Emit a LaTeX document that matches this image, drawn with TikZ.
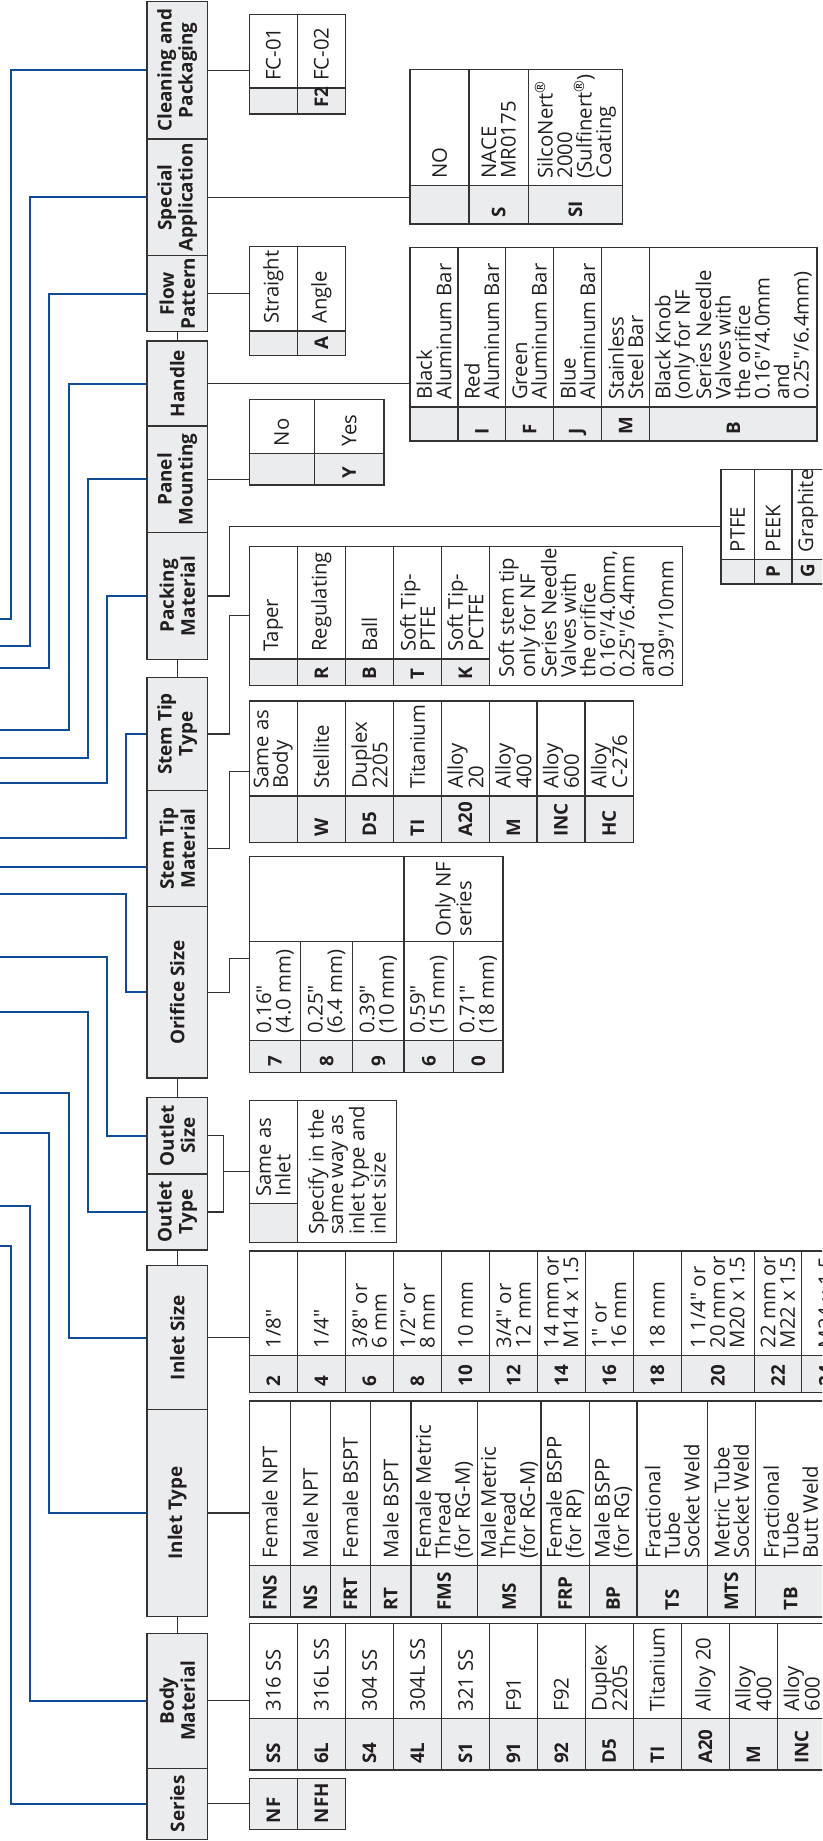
\documentclass[tikz,border=0pt]{standalone}
\usepackage{fontspec}
\setmainfont{Open Sans}[Ligatures=TeXOff]
\usetikzlibrary{fit}

\definecolor{hdrgray}{HTML}{EBECEE}
\definecolor{codeblue}{HTML}{0F4C95}
\definecolor{inkgray}{HTML}{333333}
\definecolor{textc}{HTML}{231F20}

% option table: frame name, x0, strip end, x1, ytop, ystrip, ybot, columns xa/xb/code/text
\newcommand{\opttab}[8]{%
  \fill[hdrgray] (#2,#6) rectangle (#3,#7);
  \foreach \xa/\xb/\cd/\tx [count=\i] in {#8}{
    \draw[tline] (\xb,#5) -- (\xb,#7) (\xa,#6) -- (\xb,#6);
    \node[opt] (#1-\i) at ({(\xa+\xb)/2},#6-7) {\tx};
    \node[ocode] (#1-c\i) at ({(\xa+\xb)/2},#7-6) {\cd};
  }
  \node[tframe,fit={(#2,#5) (#4,#7)}] (#1) {};
}

\begin{document}
\begin{tikzpicture}[x=1pt,y=-1pt,
  hdr/.style={draw=inkgray,fill=hdrgray,line width=1.4pt,rotate=90,minimum height=60.3pt,
    inner sep=1pt,align=center,text=textc,font=\fontsize{18.9}{21}\selectfont\bfseries},
  opt/.style={rotate=90,anchor=west,inner sep=0pt,align=left,text=textc,
    font=\fontsize{20.3}{19.5}\selectfont},
  ocode/.style={rotate=90,anchor=west,inner sep=0pt,text=textc,font=\fontsize{18.8}{19}\selectfont\bfseries},
  tline/.style={draw=inkgray,line width=1.3pt},
  tframe/.style={draw=inkgray,line width=1.4pt,inner sep=0pt},
  conn/.style={draw=inkgray,line width=1.2pt},
  bline/.style={draw=codeblue,line width=2pt}]

 \useasboundingbox (0,0) rectangle (822,1841);
 \clip (0,0) rectangle (822,1841);

 % ordering-code headers
 \foreach \n/\yc/\h/\t in {clean/70.2/137.7/{Cleaning and\\Packaging},
   special/197.4/116.7/{Special\\Application}, flow/293.7/76/{Flow\\Pattern},
   handle/383.5/85/Handle, panel/479.4/106.7/{Panel\\Mounting},
   packing/596/126.6/{Packing\\Material}, tiptype/734/113.4/{Stem Tip\\Type},
   tipmat/848.7/116/{Stem Tip\\Material}, orifice/992.4/171.3/{Orifice Size},
   outsize/1135.7/76.7/{Outlet\\Size}, outtype/1212/76/{Outlet\\Type},
   insize/1337.5/143.6/{Inlet Size}, intype/1513/207.4/{Inlet Type},
   body/1700.8/135/{Body\\Material}, series/1803.8/71/Series}
   \node[hdr,minimum width=\h pt] (\n) at (177.2,\yc) {\t};

 \draw[conn] (flow.west) -- (handle.east);
 \draw[conn] (packing.west) -- (tiptype.east);
 \draw[conn] (orifice.west) -- (outsize.east);
 \draw[conn] (outtype.west) -- (insize.east);
 \draw[conn] (intype.west) -- (body.east);

 % blue leads to the code string
 \foreach \n/\vx/\ey in {clean/11.3/619.3, special/30.3/645.7, flow/49.3/668,
   handle/68.7/730, panel/87.7/758.3, packing/107/782.7, tiptype/126/837.7,
   orifice/126/894.3, outsize/107/956.7, outtype/87.7/1012, insize/68.7/1093.3,
   intype/49.3/1133.3, body/30.3/1205.7, series/11.3/1245.7}{
   \coordinate (e-\n) at (0,\ey);
   \draw[bline] (\n.north) -| (\vx,\ey) -- (e-\n);
 }
 \coordinate (e-tipmat) at (0,867.3);
 \draw[bline] (e-tipmat) -- (e-tipmat -| tipmat.north);

 % option tables
 \opttab{t-clean}{249.3}{345.3}{345.3}{14.7}{88}{114}{249.3/297.3/{}/FC-01, 297.3/345.3/F2/FC-02}
 \opttab{t-special}{410}{622.3}{622.3}{69.3}{185.7}{224}{410/469/{}/NO,
   469/528.3/S/{NACE\\MR0175},
   528.3/622.3/SI/{SilcoNert\textsuperscript{\textregistered}\\2000\\(Sulfinert\textsuperscript{\textregistered})\\Coating}}
 \opttab{t-flow}{249.3}{345.3}{345.3}{246.3}{331}{355.7}{249.3/297.3/{}/Straight, 297.3/345.3/A/Angle}
 \opttab{t-handle}{410}{817}{817}{247.3}{407}{441}{410/458/{}/{Black\\Aluminum Bar},
   458/505.7/I/{Red\\Aluminum Bar}, 505.7/553.7/F/{Green\\Aluminum Bar},
   553.7/601.7/J/{Blue\\Aluminum Bar}, 601.7/649.7/M/{Stainless\\Steel Bar},
   649.7/817/B/{Black Knob\\(only for NF\\Series Needle\\Valves with\\the orifice\\0.16"/4.0mm\\and\\0.25"/6.4mm)}}
 \opttab{t-panel}{249.3}{384}{384}{399.7}{453.3}{485}{249.3/314.3/{}/No, 314.3/384/Y/Yes}
 \opttab{t-pack}{721}{823.5}{823.5}{469.3}{559.3}{584}{721/754.3/{}/PTFE, 754.3/792/P/PEEK, 792/823.5/G/Graphite}
 \opttab{t-tiptype}{249.3}{489.7}{682.3}{546.3}{659}{685.3}{249.3/297.3/{}/Taper,
   297.3/345.3/R/Regulating, 345.3/393.7/B/Ball, 393.7/441.3/T/{Soft Tip-\\PTFE},
   441.3/489.7/K/{Soft Tip-\\PCTFE}}
 \node[opt] (tipnote) at (586,678) {Soft stem tip\\only for NF\\Series Needle\\Valves with\\the orifice\\0.16"/4.0mm,\\0.25"/6.4mm\\and\\0.39"/10mm};
 \opttab{t-tipmat}{249.3}{633.3}{633.3}{701}{796}{842.7}{249.3/297.3/{}/{Same as\\Body},
   297.3/345.3/W/Stellite, 345.3/393.7/D5/{Duplex\\2205}, 393.7/441.3/TI/Titanium,
   441.3/489.7/A20/{Alloy\\20}, 489.7/537/M/{Alloy\\400}, 537/585/INC/{Alloy\\600},
   585/633.3/HC/{Alloy\\C-276}}
 \opttab{t-orif}{249.3}{503}{503}{941.7}{1040.7}{1072.7}{249.3/300.7/7/{0.16"\\(4.0 mm)},
   300.7/352.7/8/{0.25"\\(6.4 mm)}, 352.7/404/9/{0.39"\\(10 mm)},
   404/453.7/6/{0.59"\\(15 mm)}, 453.7/503/0/{0.71"\\(18 mm)}}
 \draw[tline] (404,856.7) -- (404,941.7);
 \node[tframe,fit={(249.3,856.7) (503,1072.7)}] (t-orifice) {};
 \node[opt,anchor=center] (onlynf) at (453.4,899.2) {Only NF\\series};
 \opttab{t-outlet}{249.3}{297.3}{396.7}{1100.3}{1203.7}{1242.7}{249.3/297.3/{}/{Same as\\Inlet}}
 \node[opt] (outnote) at (347,1235) {Specify in the\\same way as\\inlet type and\\inlet size};
 \opttab{t-insize}{249.3}{850}{850}{1251}{1355.3}{1392.5}{249.3/297.3/2/{1/8"},
   297.3/345.3/4/{1/4"}, 345.3/393.7/6/{3/8" or\\6 mm}, 393.7/441.3/8/{1/2" or\\8 mm},
   441.3/489.7/10/10 mm, 489.7/537.3/12/{3/4" or\\12 mm}, 537.3/585.3/14/{14 mm or\\M14 x 1.5},
   585.3/633.3/16/{1" or\\16 mm}, 633.3/681.3/18/18 mm,
   681.3/754.3/20/{1 1/4" or\\20 mm or\\M20 x 1.5}, 754.3/801.7/22/{22 mm or\\M22 x 1.5},
   801.7/850/24/{M24 x 1.5}}
 \opttab{t-intype}{249.3}{826}{826}{1401}{1565.7}{1617}{249.3/290.3/FNS/Female NPT,
   290.3/330.3/NS/Male NPT, 330.3/370.3/FRT/Female BSPT, 370.3/411/RT/Male BSPT,
   411/477.3/FMS/{Female Metric\\Thread\\(for RG-M)}, 477.3/541/MS/{Male Metric\\Thread\\(for RG-M)},
   541/589.3/FRP/{Female BSPP\\(for RP)}, 589.3/637/BP/{Male BSPP\\(for RG)},
   637/707.3/TS/{Fractional\\Tube\\Socket Weld}, 707.3/755.5/MTS/{Metric Tube\\Socket Weld},
   755.5/826/TB/{Fractional\\Tube\\Butt Weld}}
 \opttab{t-body}{249.3}{826}{826}{1623.7}{1718.5}{1770}{249.3/297.3/SS/316 SS,
   297.3/345.3/6L/316L SS, 345.3/393.7/S4/304 SS, 393.7/441.3/4L/304L SS,
   441.3/489.7/S1/321 SS, 489.7/537.3/91/F91, 537.3/585.3/92/F92,
   585.3/633.3/D5/{Duplex\\2205}, 633.3/681.3/TI/Titanium, 681.3/729.3/A20/Alloy 20,
   729.3/777.5/M/{Alloy\\400}, 777.5/826/INC/{Alloy\\600}}
 \opttab{t-series}{249.3}{345.3}{345.3}{1778.3}{1778.3}{1829.3}{249.3/297.3/NF/{}, 297.3/345.3/NFH/{}}

 % header to table connectors
 \foreach \n/\t in {clean/t-clean, special/t-special, flow/t-flow, handle/t-handle,
   panel/t-panel, insize/t-insize, intype/t-intype, body/t-body, series/t-series}
   \draw[conn] (\n.south) -- (\n.south -| \t.west);
 \draw[conn] (packing.south) -- ++(21.4,0) |- (t-pack.west);
 \draw[conn] (tiptype.south) -- ++(21.4,0) |- (t-tiptype.west);
 \draw[conn] (tipmat.south) -- ++(21.4,0) |- (t-tipmat.west);
 \draw[conn] (orifice.south) -- ++(21.4,0) |- ([yshift=6pt]t-orifice.west);
 \draw[conn] (outsize.south) -- ++(15.7,0) coordinate (oj) |- (outtype.south);
 \draw[conn] (oj |- t-outlet.west) -- (t-outlet.west);
\end{tikzpicture}
\end{document}
